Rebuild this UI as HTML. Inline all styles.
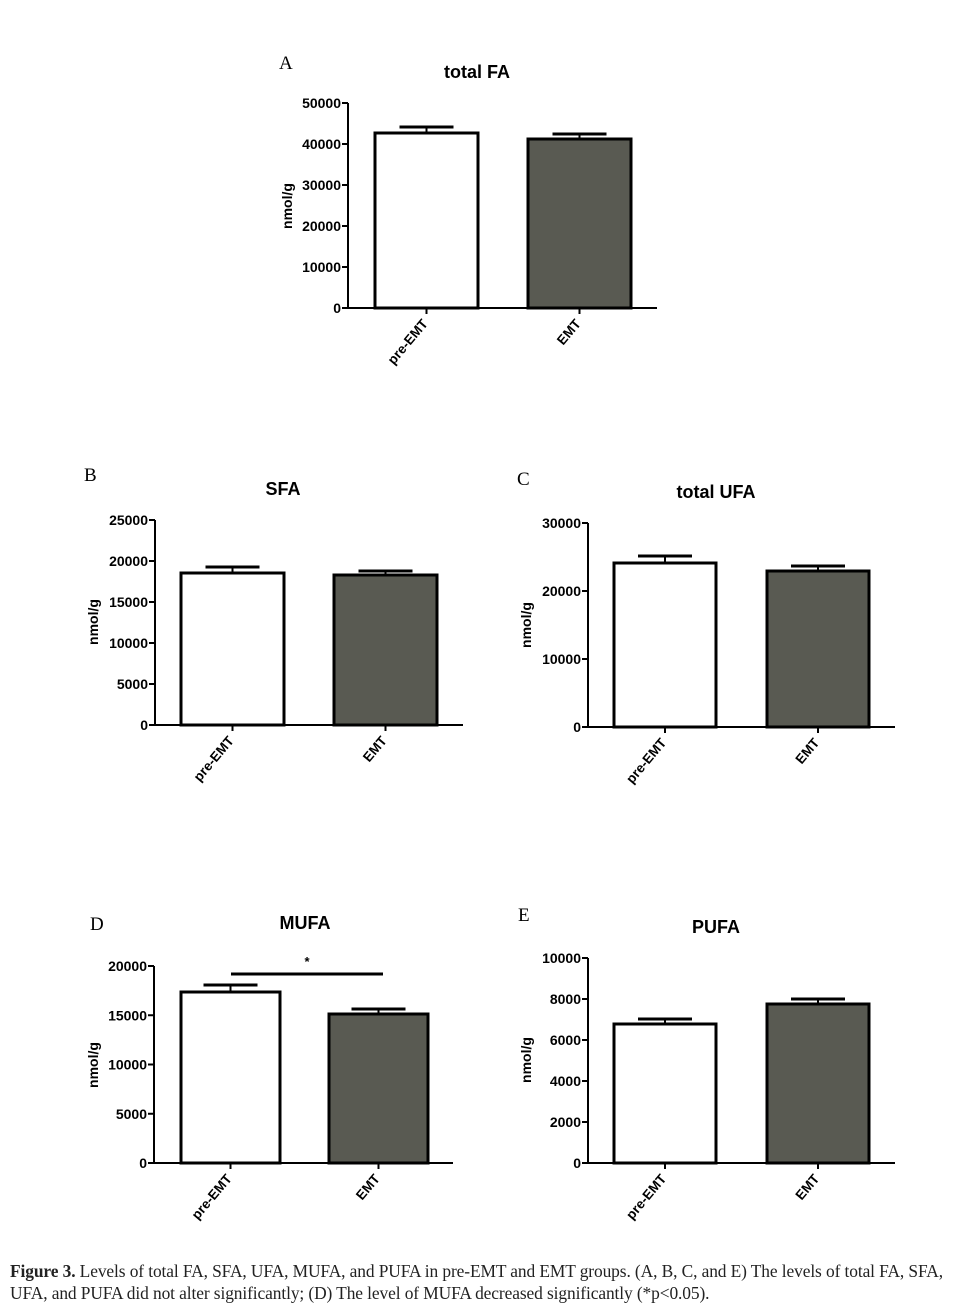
<!DOCTYPE html>
<html><head><meta charset="utf-8"><style>
body{margin:0;background:#fff;width:965px;height:1304px;overflow:hidden;position:relative}
#cap{position:absolute;left:10px;top:1260px;width:955px;font-family:"Liberation Serif",serif;font-size:17.4px;line-height:22px;color:#222;white-space:nowrap;letter-spacing:-0.1px}
</style></head><body>
<svg id="s" width="965" height="1304" xmlns="http://www.w3.org/2000/svg" style="position:absolute;left:0;top:0"></svg>
<div id="cap"><b>Figure 3.</b> Levels of total FA, SFA, UFA, MUFA, and PUFA in pre-EMT and EMT groups. (A, B, C, and E) The levels of total FA, SFA,<br>UFA, and PUFA did not alter significantly; (D) The level of MUFA decreased significantly (*p&lt;0.05).</div>
<script>
var s=document.getElementById('s'),h='';
function L(x1,y1,x2,y2,w){h+='<line x1="'+x1+'" y1="'+y1+'" x2="'+x2+'" y2="'+y2+'" stroke="#000" stroke-width="'+(w||2)+'"/>';}
function T(x,y,t,a,sz,extra){h+='<text x="'+x+'" y="'+y+'" text-anchor="'+(a||'middle')+'" font-family="Liberation Sans,sans-serif" font-weight="bold" font-size="'+(sz||13)+'" '+(extra||'')+'>'+t+'</text>';}
function P(o){
 var ax=o.ax,top=o.top,bot=o.bot,xe=o.xe,n=o.ticks.length-1;
 h+='<text x="'+o.lx+'" y="'+o.ly+'" font-family="Liberation Serif,serif" font-size="19">'+o.letter+'</text>';
 T(o.tx,o.ty,o.title,'middle',18);
 o.bars.forEach(function(b,i){
  var cx=(b[0]+b[1])/2;
  L(cx,b[3],cx,b[2]);L(cx-27,b[3],cx+27,b[3],3);
  h+='<rect x="'+b[0]+'" y="'+b[2]+'" width="'+(b[1]-b[0])+'" height="'+(bot-b[2])+'" fill="'+(i?'#595a52':'#fff')+'" stroke="#000" stroke-width="3"/>';
  L(cx,bot,cx,bot+6);
  var lab=i?'EMT':'pre-EMT';
  T(cx+2,bot+16,lab,'end',13.5,'transform="rotate(-50 '+(cx+2)+' '+(bot+16)+')"');
 });
 L(ax,top,ax,bot);L(ax-1,bot,xe,bot);
 o.ticks.forEach(function(t,i){var y=bot-(bot-top)*i/n;L(ax-6,y,ax,y);T(ax-7,y+5,t,'end',14);});
 T(o.yx,o.yy,'nmol/g','middle',14,'transform="rotate(-90 '+o.yx+' '+o.yy+')"');
}
P({ax:348,top:103,bot:308,xe:657,letter:'A',lx:279,ly:69,title:'total FA',tx:477,ty:78,yx:292,yy:206,
 ticks:['0','10000','20000','30000','40000','50000'],bars:[[375,478,133,127],[528,631,139,134]]});
P({ax:155,top:520,bot:725,xe:463,letter:'B',lx:84,ly:481,title:'SFA',tx:283,ty:495,yx:98,yy:622,
 ticks:['0','5000','10000','15000','20000','25000'],bars:[[181,284,573,567],[334,437,575,571]]});
P({ax:588,top:523,bot:727,xe:895,letter:'C',lx:517,ly:485,title:'total UFA',tx:716,ty:498,yx:531,yy:625,
 ticks:['0','10000','20000','30000'],bars:[[614,716,563,556],[767,869,571,566]]});
P({ax:154,top:966,bot:1163,xe:453,letter:'D',lx:90,ly:930,title:'MUFA',tx:305,ty:929,yx:98,yy:1065,
 ticks:['0','5000','10000','15000','20000'],bars:[[181,280,992,985],[329,428,1014,1009]]});
P({ax:588,top:958,bot:1163,xe:895,letter:'E',lx:518,ly:921,title:'PUFA',tx:716,ty:933,yx:531,yy:1060,
 ticks:['0','2000','4000','6000','8000','10000'],bars:[[614,716,1024,1019],[767,869,1004,999]]});
L(231,974,383,974,3);T(307,966,'*','middle',13);
s.innerHTML=h;
</script>
</body></html>
